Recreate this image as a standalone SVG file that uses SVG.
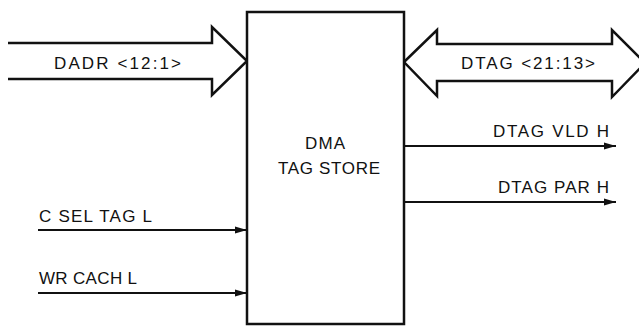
<svg xmlns="http://www.w3.org/2000/svg" width="639" height="327" viewBox="0 0 639 327">
<defs>
<style>
.t{font-family:"Liberation Sans",Arial,sans-serif;font-size:17px;fill:#111}
.bus{fill:#fff;stroke:#111;stroke-width:2.5;stroke-linejoin:miter}
.sig{stroke:#111;stroke-width:2;fill:none}
</style>
<marker id="ah" viewBox="0 0 12 8" refX="12" refY="4" markerWidth="12" markerHeight="8" markerUnits="userSpaceOnUse" orient="auto">
<path d="M0,0.5 L12,4 L0,7.5 Z" fill="#111"/>
</marker>
</defs>
<rect width="639" height="327" fill="#fff"/>
<g id="connectors">
<path id="dadr" class="bus" d="M8,43 L212,43 L212,27 L247,61 L212,95 L212,79 L8,79"/>
<path id="dtag" class="bus" d="M404,62 L437,30 L437,44 L612,44 L612,30 L645,63 L612,97 L612,81 L437,81 L437,96 Z"/>
<line class="sig" x1="38" y1="230" x2="247" y2="230" marker-end="url(#ah)"/>
<line class="sig" x1="38" y1="293" x2="247" y2="293" marker-end="url(#ah)"/>
<line class="sig" x1="404" y1="146" x2="616" y2="146" marker-end="url(#ah)"/>
<line class="sig" x1="404" y1="202" x2="616" y2="202" marker-end="url(#ah)"/>
</g>
<g id="store">
<rect x="247" y="12" width="157" height="312" fill="#fff" stroke="#111" stroke-width="2.5"/>
<text class="t" x="305" y="149" textLength="40" lengthAdjust="spacing">DMA</text>
<text class="t" x="278" y="174" textLength="102" lengthAdjust="spacing">TAG STORE</text>
</g>
<g id="labels">
<text class="t" x="54" y="69" textLength="127" lengthAdjust="spacing">DADR &lt;12:1&gt;</text>
<text class="t" x="461" y="69" textLength="134" lengthAdjust="spacing">DTAG &lt;21:13&gt;</text>
<text class="t" x="39" y="222" textLength="113" lengthAdjust="spacing">C SEL TAG L</text>
<text class="t" x="39" y="284" textLength="98" lengthAdjust="spacing">WR CACH L</text>
<text class="t" x="493" y="137" textLength="116" lengthAdjust="spacing">DTAG VLD H</text>
<text class="t" x="498" y="193" textLength="111" lengthAdjust="spacing">DTAG PAR H</text>
</g>
</svg>
